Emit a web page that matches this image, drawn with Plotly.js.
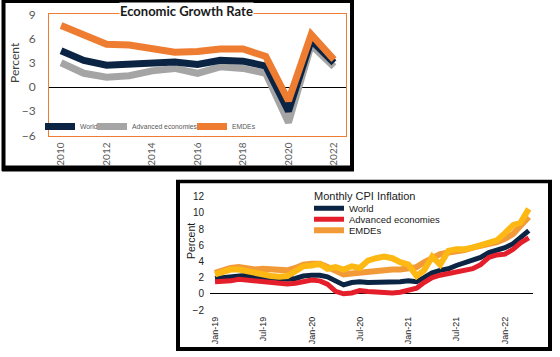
<!DOCTYPE html>
<html><head><meta charset="utf-8">
<script src="https://cdn.plot.ly/plotly-3.0.1.min.js"></script>
<style>html,body{margin:0;padding:0;background:#fff}#chart{width:560px;height:357px}</style>
</head><body><div id="chart"></div>
<script>
// ---- Economic Growth Rate (annual, percent) ----
const years = [2010, 2011, 2012, 2013, 2014, 2015, 2016, 2017, 2018, 2019, 2020, 2021, 2022];
const growthWorld    = [4.5, 3.3, 2.7, 2.8, 3.1, 3.1, 2.8, 3.3, 3.2, 2.6, -3.0, 5.8, 3.0];
const growthAdvanced = [3.0, 1.7, 1.2, 1.4, 2.0, 2.3, 1.7, 2.5, 2.3, 1.7, -4.4, 5.2, 2.5];
const growthEMDE     = [7.6, 6.4, 5.3, 5.2, 4.7, 4.3, 4.4, 4.7, 4.7, 3.8, -1.7, 6.5, 3.4];

// ---- Monthly CPI Inflation (percent) ----
const months = ['2019-01-01','2019-02-01','2019-03-01','2019-04-01','2019-05-01','2019-06-01',
  '2019-07-01','2019-08-01','2019-09-01','2019-10-01','2019-11-01','2019-12-01',
  '2020-01-01','2020-02-01','2020-03-01','2020-04-01','2020-05-01','2020-06-01',
  '2020-07-01','2020-08-01','2020-09-01','2020-10-01','2020-11-01','2020-12-01',
  '2021-01-01','2021-02-01','2021-03-01','2021-04-01','2021-05-01','2021-06-01',
  '2021-07-01','2021-08-01','2021-09-01','2021-10-01','2021-11-01','2021-12-01',
  '2022-01-01','2022-02-01','2022-03-01','2022-04-01'];
const cpiWorld    = [1.9, 2.0, 2.2, 2.3, 2.3, 2.1, 2.0, 1.9, 1.8, 1.8, 1.9, 2.2, 2.3, 2.3, 2.1, 1.6, 1.1, 1.4, 1.5, 1.4,
                     1.4, 1.5, 1.5, 1.5, 1.6, 1.5, 2.0, 2.6, 2.9, 3.1, 3.5, 3.8, 4.1, 4.5, 5.1, 5.4, 5.7, 6.2, 7.0, 7.8];
const cpiAdvanced = [1.5, 1.5, 1.6, 1.8, 1.7, 1.5, 1.5, 1.4, 1.3, 1.2, 1.3, 1.5, 1.7, 1.6, 1.2, 0.3, 0.0, 0.1, 0.4, 0.3,
                     0.2, 0.1, 0.1, 0.2, 0.5, 0.7, 1.4, 2.0, 2.3, 2.5, 2.6, 2.8, 3.1, 3.6, 4.5, 4.8, 4.9, 5.5, 6.3, 6.9];
const cpiEMDE     = [2.6, 2.9, 3.2, 3.3, 3.2, 3.0, 3.1, 3.0, 2.9, 2.9, 3.2, 3.6, 3.7, 3.7, 3.3, 2.8, 2.4, 2.5, 2.6, 2.8,
                     2.9, 3.0, 3.0, 3.0, 3.1, 3.3, 3.9, 4.5, 4.9, 5.1, 5.2, 5.4, 5.7, 5.9, 6.2, 6.4, 6.8, 7.4, 8.4, 9.5];
const cpiEMDE2    = [2.4, 2.7, 3.0, 3.0, 2.8, 2.5, 2.3, 2.2, 2.1, 2.2, 2.8, 3.4, 3.5, 3.7, 3.1, 3.3, 3.0, 3.4, 3.2, 4.1,
                     4.4, 4.6, 4.4, 3.9, 3.6, 2.2, 2.9, 4.6, 3.6, 5.3, 5.5, 5.5, 5.7, 6.0, 6.3, 6.6, 7.5, 8.5, 8.8, 10.5];

const W = 560, H = 357;
const px = v => v / W;
const py = v => 1 - v / H;

const NAVY = '#0B2444', GRAY = '#A5A5A5', ORANGE = '#EE7D31';
const RED = '#E41E2B', ORANGE2 = '#F39A38', YELLOW = '#FDB813';

const traces = [
  {x: years, y: growthAdvanced, name: 'Advanced economies', type: 'scatter', mode: 'lines',
   line: {color: GRAY, width: 7}, xaxis: 'x', yaxis: 'y', legend: 'legend2'},
  {x: years, y: growthWorld, name: 'World', type: 'scatter', mode: 'lines',
   line: {color: NAVY, width: 7}, xaxis: 'x', yaxis: 'y', legend: 'legend'},
  {x: years, y: growthEMDE, name: 'EMDEs', type: 'scatter', mode: 'lines',
   line: {color: ORANGE, width: 7}, xaxis: 'x', yaxis: 'y', legend: 'legend3'},

  {x: months, y: cpiWorld, name: 'World', type: 'scatter', mode: 'lines',
   line: {color: NAVY, width: 5}, xaxis: 'x2', yaxis: 'y2', legend: 'legend4'},
  {x: months, y: cpiAdvanced, name: 'Advanced economies', type: 'scatter', mode: 'lines',
   line: {color: RED, width: 5}, xaxis: 'x2', yaxis: 'y2', legend: 'legend5'},
  {x: months, y: cpiEMDE, name: 'EMDEs', type: 'scatter', mode: 'lines',
   line: {color: ORANGE2, width: 6}, xaxis: 'x2', yaxis: 'y2', legend: 'legend6'},
  {x: months, y: cpiEMDE2, name: 'EMDEs (alt)', type: 'scatter', mode: 'lines', showlegend: false,
   line: {color: YELLOW, width: 6}, xaxis: 'x2', yaxis: 'y2'}
];

const topLegFont = {family: 'Liberation Sans, Arial, sans-serif', size: 6.8, color: '#595959'};
const botLegFont = {family: 'Liberation Sans, Arial, sans-serif', size: 9.5, color: '#1a1a1a'};
function leg(x, y, font) {
  return {x: px(x), y: py(y), xanchor: 'left', yanchor: 'middle', font: font,
          bgcolor: 'rgba(0,0,0,0)', borderwidth: 0, orientation: 'v'};
}

const frameLine = (x0, y0, x1, y1, w) => ({type: 'line', xref: 'paper', yref: 'paper',
  x0: px(x0), y0: py(y0), x1: px(x1), y1: py(y1), line: {color: '#000', width: w}});

const layout = {
  width: W, height: H,
  margin: {l: 0, r: 0, t: 0, b: 0},
  paper_bgcolor: '#fff', plot_bgcolor: 'rgba(0,0,0,0)',
  showlegend: true,
  xaxis: {domain: [px(49), px(346)], range: [2009.47, 2022.53], anchor: 'y',
          tick0: 2010, dtick: 2, tickangle: -90, ticks: '', ticklabelstandoff: 2,
          showgrid: false, zeroline: false, showline: true, mirror: true,
          linecolor: ORANGE, linewidth: 1,
          tickfont: {family: 'Lato, Liberation Sans, sans-serif', size: 10, color: '#595959'}},
  yaxis: {domain: [py(135.5), py(14.3)], range: [-6, 9], anchor: 'x',
          tick0: 0, dtick: 3, ticks: '', ticklabelstandoff: 10,
          showgrid: false, zeroline: true, zerolinecolor: '#000', zerolinewidth: 1,
          showline: true, mirror: true, linecolor: ORANGE, linewidth: 1,
          tickfont: {family: 'Lato, Liberation Sans, sans-serif', size: 12, color: '#595959'}},
  xaxis2: {domain: [px(210), px(533)], range: ['2018-12-13', '2022-04-17'], anchor: 'y2', type: 'date',
           tick0: '2019-01-01', dtick: 'M6', tickformat: '%b-%y', tickangle: -90, ticks: '',
           ticklabelstandoff: 4, showgrid: false, zeroline: false, showline: false,
           tickfont: {family: 'Liberation Sans, Arial, sans-serif', size: 9, color: '#222'}},
  yaxis2: {domain: [py(310), py(196.7)], range: [-2, 12], anchor: 'x2',
           tick0: 0, dtick: 2, ticks: '', ticklabelstandoff: 5,
           showgrid: false, zeroline: true, zerolinecolor: '#000', zerolinewidth: 1, showline: false,
           tickfont: {family: 'Liberation Sans, Arial, sans-serif', size: 10, color: '#222'}},
  legend: leg(40, 126.5, topLegFont),
  legend2: leg(92, 126.5, topLegFont),
  legend3: leg(192, 126.5, topLegFont),
  legend4: leg(309, 208.3, botLegFont),
  legend5: leg(309, 219.3, botLegFont),
  legend6: leg(309, 230.3, botLegFont),
  annotations: [
    {text: '<b>Economic Growth Rate</b>', xref: 'paper', yref: 'paper', x: px(186), y: py(11),
     xanchor: 'center', yanchor: 'middle', showarrow: false, bgcolor: '#fff', borderpad: 0,
     font: {family: 'Lato, Liberation Sans, sans-serif', size: 13, color: '#1a1a1a'}},
    {text: 'Percent', xref: 'paper', yref: 'paper', x: px(14), y: py(63), textangle: -90,
     xanchor: 'center', yanchor: 'middle', showarrow: false,
     font: {family: 'Lato, Liberation Sans, sans-serif', size: 12, color: '#404040'}},
    {text: 'Monthly CPI Inflation', xref: 'paper', yref: 'paper', x: px(365), y: py(195.5),
     xanchor: 'center', yanchor: 'middle', showarrow: false,
     font: {family: 'Liberation Sans, Arial, sans-serif', size: 11, color: '#1a1a1a'}},
    {text: 'Percent', xref: 'paper', yref: 'paper', x: px(190.5), y: py(241.5), textangle: -90,
     xanchor: 'center', yanchor: 'middle', showarrow: false,
     font: {family: 'Liberation Sans, Arial, sans-serif', size: 10.5, color: '#1a1a1a'}}
  ],
  shapes: [
    frameLine(3.5, 0, 3.5, 171, 4),
    frameLine(2, 1.5, 354, 1.5, 3),
    frameLine(2, 168.5, 354, 168.5, 6),
    frameLine(352, 0, 352, 171, 4),
    frameLine(178, 180, 178, 351, 4),
    frameLine(176, 181.5, 552, 181.5, 3.5),
    frameLine(176, 349, 552, 349, 4),
    frameLine(550, 180, 550, 351, 4)
  ]
};

Plotly.newPlot('chart', traces, layout, {displayModeBar: false, staticPlot: true});
</script>
</body></html>
